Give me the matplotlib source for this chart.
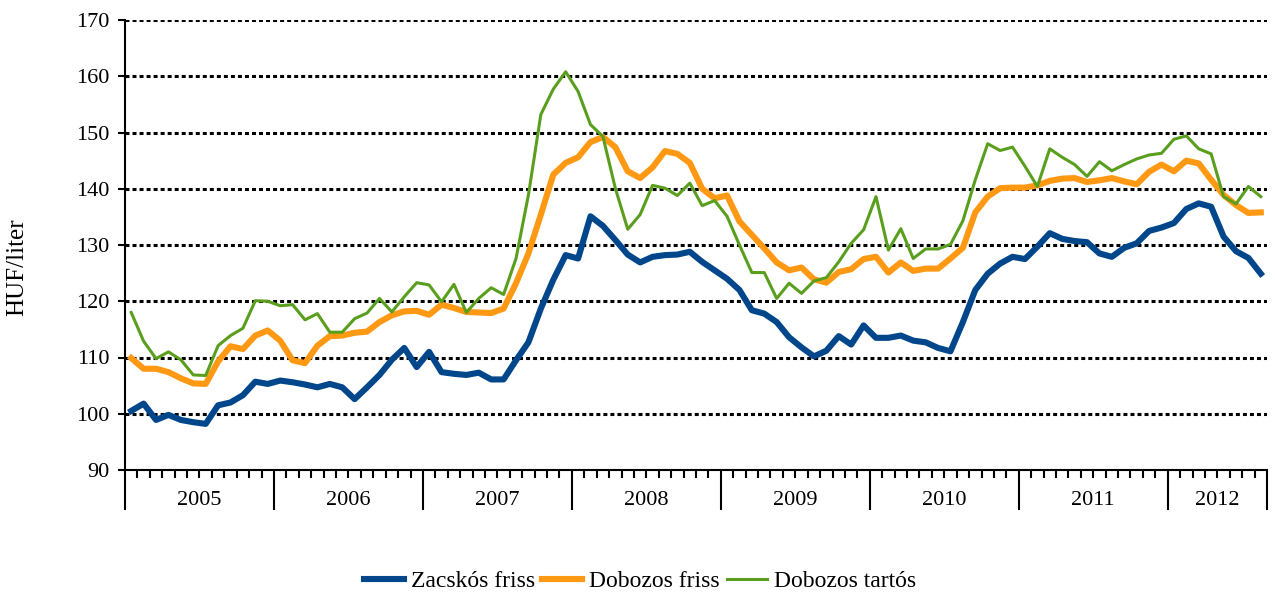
import numpy as np
import matplotlib.pyplot as plt
from matplotlib.transforms import blended_transform_factory

plt.rcParams["font.family"] = ["Liberation Serif", "DejaVu Serif"]
plt.rcParams["font.size"] = 16

# monthly prices, Jan 2005 - Aug 2012 (HUF/liter)
years = ["2005", "2006", "2007", "2008", "2009", "2010", "2011", "2012"]
months_per_year = [12, 12, 12, 12, 12, 12, 12, 8]

zacskos_friss = [
    100.5, 101.8, 98.9, 99.8, 98.9, 98.5, 98.2, 101.5, 102.0, 103.3, 105.7, 105.3,
    105.9, 105.6, 105.2, 104.7, 105.3, 104.7, 102.6, 104.7, 106.9, 109.6, 111.7, 108.3,
    111.0, 107.4, 107.1, 106.9, 107.3, 106.1, 106.1, 109.5, 112.7, 118.7, 123.8, 128.2,
    127.6, 135.1, 133.4, 130.9, 128.3, 126.9, 127.9, 128.2, 128.3, 128.8, 127.0, 125.5,
    124.0, 122.0, 118.4, 117.8, 116.3, 113.6, 111.8, 110.2, 111.2, 113.8, 112.3, 115.7,
    113.5, 113.5, 113.9, 113.0, 112.7, 111.7, 111.1, 116.3, 122.0, 124.9, 126.7, 127.9,
    127.5, 129.7, 132.1, 131.1, 130.7, 130.5, 128.5, 127.9, 129.5, 130.3, 132.5, 133.1,
    133.9, 136.4, 137.4, 136.8, 131.5, 128.9, 127.7, 124.9,
]
dobozos_friss = [
    109.9, 108.0, 108.0, 107.4, 106.3, 105.4, 105.3, 109.3, 112.0, 111.5, 113.9, 114.8,
    113.0, 109.5, 109.0, 112.1, 113.8, 113.9, 114.4, 114.6, 116.3, 117.5, 118.2, 118.3,
    117.6, 119.4, 118.8, 118.1, 118.0, 117.9, 118.7, 123.2, 128.5, 135.4, 142.5, 144.6,
    145.6, 148.3, 149.2, 147.4, 143.1, 141.9, 143.8, 146.7, 146.2, 144.6, 140.0, 138.3,
    138.8, 134.2, 131.8, 129.4, 126.9, 125.5, 126.0, 123.9, 123.3, 125.2, 125.7, 127.5,
    127.9, 125.1, 126.9, 125.4, 125.8, 125.8, 127.6, 129.5, 135.8, 138.6, 140.1, 140.2,
    140.2, 140.6, 141.4, 141.8, 141.9, 141.2, 141.5, 141.9, 141.3, 140.8, 143.0, 144.3,
    143.1, 145.0, 144.5, 141.6, 138.9, 137.1, 135.7, 135.8,
]
dobozos_tartos = [
    118.0, 112.9, 109.8, 111.0, 109.6, 106.9, 106.8, 112.1, 113.9, 115.2, 120.1, 120.0,
    119.2, 119.4, 116.7, 117.8, 114.5, 114.5, 116.9, 117.9, 120.5, 118.1, 120.8, 123.3,
    122.9, 119.9, 123.0, 118.0, 120.5, 122.4, 121.2, 127.6, 138.9, 153.2, 157.7, 160.8,
    157.3, 151.4, 149.3, 140.1, 132.8, 135.4, 140.6, 140.1, 138.8, 141.0, 137.0, 137.9,
    135.1, 130.0, 125.1, 125.1, 120.5, 123.2, 121.4, 123.6, 124.2, 127.0, 130.3, 132.7,
    138.6, 129.1, 132.9, 127.6, 129.3, 129.3, 130.1, 134.3, 141.6, 148.0, 146.8, 147.4,
    144.0, 140.4, 147.1, 145.6, 144.3, 142.2, 144.8, 143.2, 144.3, 145.3, 146.0, 146.3,
    148.8, 149.4, 147.1, 146.2, 138.6, 137.3, 140.4, 138.6,
]

n = len(zacskos_friss)
x = np.arange(n) + 0.5

fig = plt.figure(figsize=(12.75, 5.96), dpi=100)
ax = fig.add_axes([125 / 1275, 126 / 596, 1142 / 1275, 450 / 596])

for yv in range(100, 171, 10):
    ax.axhline(yv, color="black", lw=2.2, linestyle=(0, (1.3, 1.0)), zorder=1)

ax.plot(x, zacskos_friss, color="#00468B", lw=4.4, label="Zacskós friss", zorder=3)
ax.plot(x, dobozos_friss, color="#FF9914", lw=4.4, label="Dobozos friss", zorder=4)
ax.plot(x, dobozos_tartos, color="#5A9E1E", lw=2.2, label="Dobozos tartós", zorder=5)

ax.set_xlim(0, n)
ax.set_ylim(90, 170)
ax.set_yticks(range(90, 171, 10))
ax.set_ylabel("HUF/liter", fontsize=18)
ax.yaxis.set_label_coords(-0.085, 0.45)

bounds = np.concatenate([[0], np.cumsum(months_per_year)])
ax.set_xticks(bounds)
ax.set_xticklabels([])
ax.set_xticks(np.arange(n + 1), minor=True)
ax.tick_params(axis="x", which="major", direction="out", length=29, width=1.5)
ax.tick_params(axis="x", which="minor", direction="out", length=6, width=1.5)
ax.tick_params(axis="y", direction="out", length=5, width=1.5, pad=6)

trans = blended_transform_factory(ax.transData, ax.transAxes)
for yr, a, b in zip(years, bounds[:-1], bounds[1:]):
    ax.text((a + b) / 2, -0.068, yr, transform=trans, ha="center", va="center")

for side in ["top", "right"]:
    ax.spines[side].set_visible(False)
ax.spines["left"].set_linewidth(1.5)
ax.spines["bottom"].set_linewidth(1.5)

fig.legend(loc="center", bbox_to_anchor=(0.502, 0.025), ncol=3, frameon=False,
           fontsize=17, handlelength=1.7, handletextpad=0.3, columnspacing=0.3)

fig.savefig("out.png", dpi=100)
